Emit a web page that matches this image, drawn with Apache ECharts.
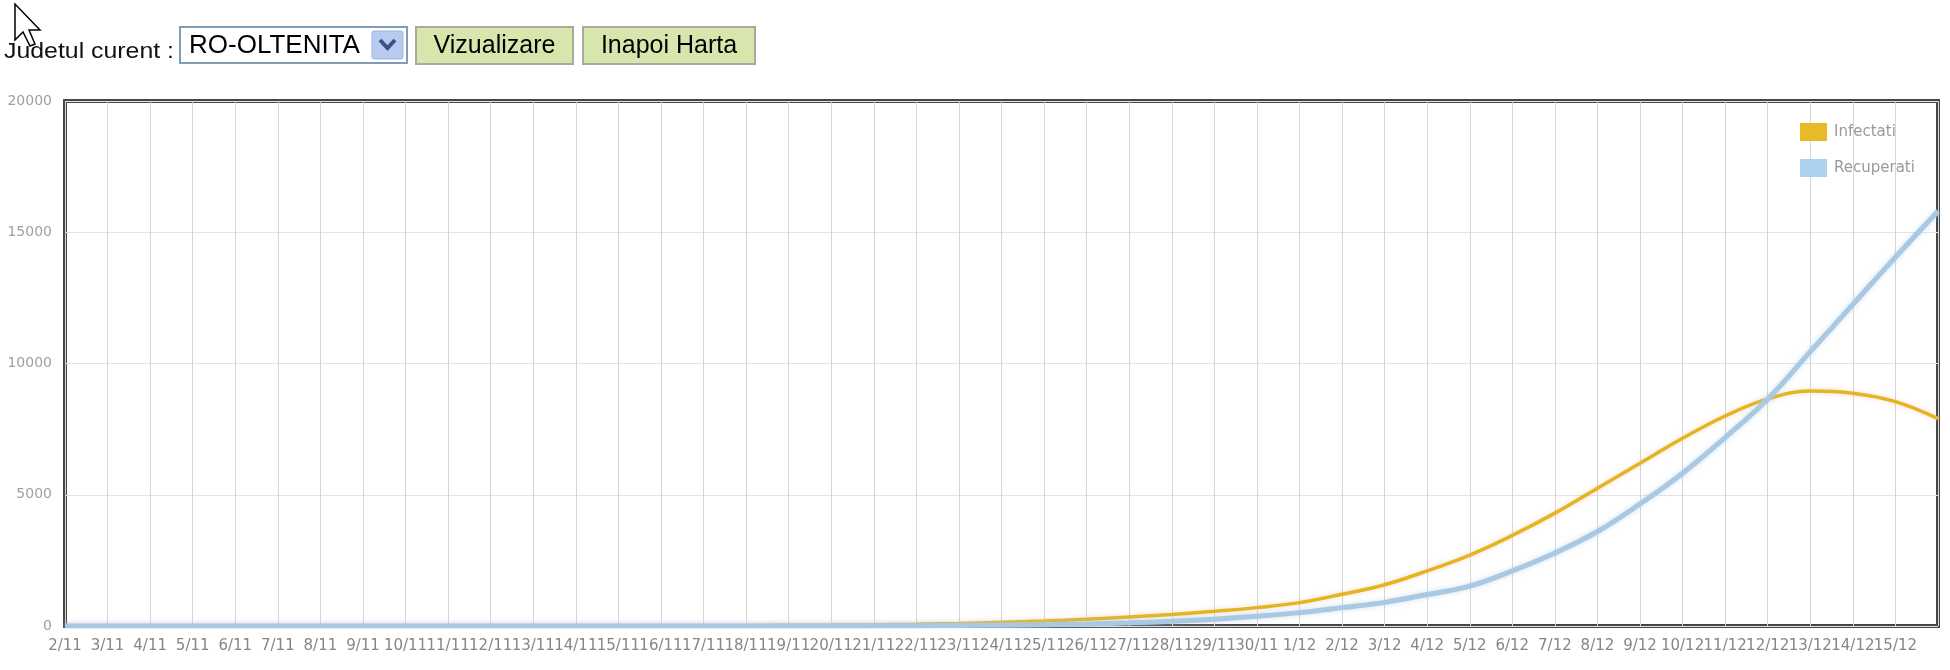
<!DOCTYPE html>
<html>
<head>
<meta charset="utf-8">
<script src="https://cdn.jsdelivr.net/npm/echarts@6/dist/echarts.min.js"></script>
<style>
html,body{margin:0;padding:0;background:#fff;}
#chart{width:1950px;height:670px;}
</style>
</head>
<body>
<div id="chart"></div>
<script>
// Category labels (last position is the right edge of the plot, label not shown)
const categories = [
  '2/11','3/11','4/11','5/11','6/11','7/11','8/11','9/11','10/11','11/11',
  '12/11','13/11','14/11','15/11','16/11','17/11','18/11','19/11','20/11','21/11',
  '22/11','23/11','24/11','25/11','26/11','27/11','28/11','29/11','30/11','1/12',
  '2/12','3/12','4/12','5/12','6/12','7/12','8/12','9/12','10/12','11/12',
  '12/12','13/12','14/12','15/12','16/12'
];
const infectati = [
  0,0,0,0,0,0,0,0,0,0,
  0,0,0,0,5,10,15,25,35,50,
  70,100,140,190,260,340,440,560,700,890,
  1210,1570,2100,2700,3450,4300,5250,6200,7150,8000,
  8650,8950,8870,8550,7900
];
const recuperati = [
  0,0,0,0,0,0,0,0,0,0,
  0,0,0,0,0,0,0,0,0,5,
  10,20,30,50,80,120,180,260,370,510,
  700,900,1200,1520,2100,2780,3600,4650,5820,7180,
  8650,10450,12250,14050,15800
];
const yTicks = { min: 0, max: 20000, interval: 5000 };
const legendNames = ['Infectati', 'Recuperati'];
const countyLabel = 'Judetul curent :';
const countyValue = 'RO-OLTENITA';
const buttonLabels = ['Vizualizare', 'Inapoi Harta'];

const chart = echarts.init(document.getElementById('chart'), null, { renderer: 'canvas' });
const lastIdx = categories.length - 1;

const option = {
  animation: false,
  backgroundColor: '#ffffff',
  grid: {
    left: 65, right: 12, top: 101, bottom: 44,
    show: true, borderColor: '#474747', borderWidth: 4, backgroundColor: 'transparent'
  },
  legend: {
    data: legendNames,
    orient: 'vertical',
    left: 1795, top: 118,
    itemWidth: 27, itemHeight: 18, itemGap: 18,
    icon: 'rect',
    textStyle: { color: '#9a9a9a', fontSize: 15, fontFamily: 'DejaVu Sans', padding: [0, 0, 0, 2] }
  },
  xAxis: {
    type: 'category',
    data: categories,
    boundaryGap: false,
    axisLine: { show: false },
    axisTick: { show: false },
    axisLabel: {
      interval: 0,
      color: '#868686',
      fontSize: 15,
      fontFamily: 'DejaVu Sans',
      margin: 13,
      hideOverlap: false,
      formatter: function (v, i) { return i === lastIdx ? '' : v; }
    },
    splitLine: { show: true, lineStyle: { color: '#d6d6d6', width: 1 } }
  },
  yAxis: {
    type: 'value',
    min: yTicks.min, max: yTicks.max, interval: yTicks.interval,
    axisLine: { show: false },
    axisTick: { show: false },
    axisLabel: {
      color: '#a0a0a0', fontSize: 14, fontFamily: 'DejaVu Sans', margin: 13,
      formatter: function (v) { return String(v); }
    },
    splitLine: { show: true, lineStyle: { color: '#e3e3e3', width: 1 } }
  },
  series: [
    {
      name: legendNames[0], type: 'line', data: infectati, smooth: 0.4,
      showSymbol: false, symbol: 'none',
      itemStyle: { color: '#e8bb26' },
      lineStyle: { color: '#e3b61f', width: 3.5, shadowColor: 'rgba(240,170,160,0.45)', shadowBlur: 5 },
      z: 3
    },
    {
      name: legendNames[1], type: 'line', data: recuperati, smooth: 0.4,
      showSymbol: false, symbol: 'none',
      itemStyle: { color: '#abd3f1' },
      lineStyle: { color: '#a9c9e2', width: 5, shadowColor: 'rgba(170,200,230,0.6)', shadowBlur: 5 },
      z: 4
    }
  ],
  graphic: [
    { type: 'text', x: 4, y: 52, scaleX: 1.13, style: { text: countyLabel, font: '22px "Liberation Sans"', fill: '#111', verticalAlign: 'middle' } },
    { type: 'rect', shape: { x: 180, y: 27, width: 227, height: 36 }, style: { fill: '#ffffff', stroke: '#7f9db9', lineWidth: 2 } },
    { type: 'text', x: 189, y: 46, style: { text: countyValue, font: '26px "Liberation Sans"', fill: '#000', verticalAlign: 'middle' } },
    { type: 'rect', shape: { x: 372, y: 31, width: 31, height: 28, r: 2 }, style: { fill: '#b7caf0', stroke: '#9fb4e0', lineWidth: 1 } },
    { type: 'polyline', shape: { points: [[380, 40], [387.5, 48], [395, 40]] }, style: { stroke: '#3b5288', lineWidth: 4, fill: null } },
    { type: 'rect', shape: { x: 416, y: 27, width: 157, height: 37 }, style: { fill: '#d6e6ac', stroke: '#a8ab9c', lineWidth: 2 } },
    { type: 'text', x: 494.5, y: 46, style: { text: buttonLabels[0], font: '25px "Liberation Sans"', fill: '#000', align: 'center', verticalAlign: 'middle' } },
    { type: 'rect', shape: { x: 583, y: 27, width: 172, height: 37 }, style: { fill: '#d6e6ac', stroke: '#a8ab9c', lineWidth: 2 } },
    { type: 'text', x: 669, y: 46, style: { text: buttonLabels[1], font: '25px "Liberation Sans"', fill: '#000', align: 'center', verticalAlign: 'middle' } },
    { type: 'polygon', z: 100, shape: { points: [[15, 4], [15, 40], [23, 32], [30, 46], [35, 44], [29, 30], [40, 30]] }, style: { fill: '#ffffff', stroke: '#000000', lineWidth: 1.5 } }
  ]
};
chart.setOption(option);
</script>
</body>
</html>
